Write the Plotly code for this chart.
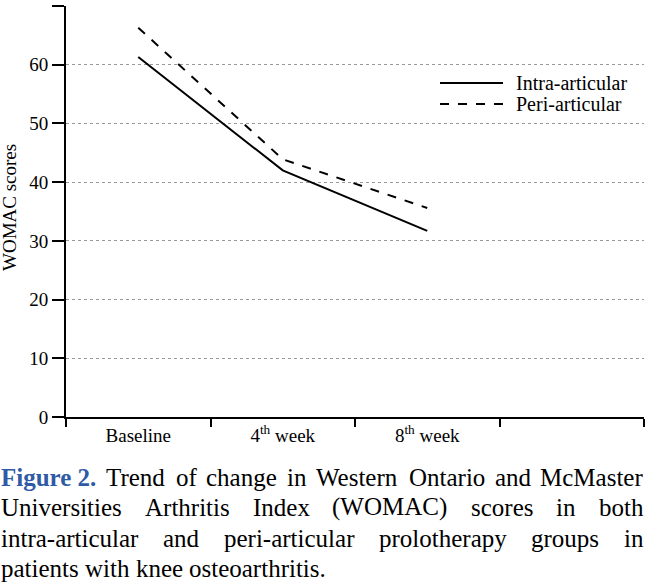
import plotly.graph_objects as go

categories = ["Baseline", "4<sup>th</sup> week", "8<sup>th</sup> week", " "]
intra_articular = [61.3, 42.0, 31.7]
peri_articular = [66.3, 43.9, 35.6]
y_ticks = [0, 10, 20, 30, 40, 50, 60, 70]
series_names = ["Intra-articular", "Peri-articular"]

caption_label = "Figure 2."
caption_lines = [
    "Trend of change in Western Ontario and McMaster",
    "Universities Arthritis Index (WOMAC) scores in both",
    "intra-articular and peri-articular prolotherapy groups in",
    "patients with knee osteoarthritis.",
]

SERIF = "Liberation Serif"
W, H = 645, 583
L, R, T, B = 66, 1, 6, 166
PW = W - L - R
PH = H - T - B


def px_x(px):
    return (px - L) / PW


def px_y(py):
    return (H - B - py) / PH


# Times / Liberation Serif advance widths (units of 1/1000 em)
_reg = dict(zip("abcdefghijklmnopqrstuvwxyz",
                [444, 500, 444, 500, 444, 333, 500, 500, 278, 278, 500, 278, 778,
                 500, 500, 500, 500, 333, 389, 278, 500, 500, 722, 500, 500, 444]))
_reg.update(dict(zip("ABCDEFGHIJKLMNOPQRSTUVWXYZ",
                     [722, 667, 667, 722, 611, 556, 722, 722, 333, 389, 722, 611, 889,
                      722, 722, 556, 722, 667, 556, 611, 722, 722, 944, 722, 722, 611])))
_reg.update({" ": 250, "-": 333, ".": 250, "(": 333, ")": 333, ",": 250})
_bold = {"F": 611, "i": 278, "g": 500, "u": 556, "r": 444, "e": 444, " ": 250,
         "2": 500, ".": 250}


def text_w(s, size, bold=False):
    tbl = _bold if bold else _reg
    return sum(tbl.get(c, 500) for c in s) * size / 1000.0


fig = go.Figure()
fig.add_trace(go.Scatter(x=categories[:3], y=intra_articular, mode="lines",
                         name=series_names[0], showlegend=False,
                         line=dict(color="black", width=2)))
fig.add_trace(go.Scatter(x=categories[:3], y=peri_articular, mode="lines",
                         name=series_names[1], showlegend=False,
                         line=dict(color="black", width=2, dash="dash")))
# empty trailing category
fig.add_trace(go.Scatter(x=[categories[3]], y=[None], mode="lines", showlegend=False,
                         hoverinfo="skip"))

fig.update_layout(
    width=W, height=H,
    margin=dict(l=L, r=R, t=T, b=B),
    paper_bgcolor="white", plot_bgcolor="white",
    font=dict(family=SERIF, size=18, color="black"),
)
fig.update_xaxes(
    type="category", categoryorder="array", categoryarray=categories,
    range=[-0.5, 3.5], tickson="boundaries", ticks="outside", ticklen=8,
    tickwidth=2, tickcolor="black", showline=True, linecolor="black", linewidth=2,
    showgrid=False, zeroline=False, tickfont=dict(size=19, family=SERIF),
)
fig.update_yaxes(
    range=[0, 70], tickvals=y_ticks, ticks="outside", ticklen=12, tickwidth=2,
    tickcolor="black", showline=True, linecolor="black", linewidth=2,
    showgrid=True, gridcolor="#9a9a9a", griddash="dot", gridwidth=1,
    zeroline=False, tickfont=dict(size=19, family=SERIF),
)

# y-axis title
fig.add_annotation(xref="paper", yref="paper", x=px_x(10), y=px_y(208),
                   xanchor="center", yanchor="middle", showarrow=False,
                   textangle=-90, text="WOMAC scores",
                   font=dict(size=19, family=SERIF))

# legend (custom, long line samples)
for i, (name, dash) in enumerate(zip(series_names, ["solid", "dash"])):
    yy = 83 + 21 * i
    fig.add_shape(type="line", xref="paper", yref="paper",
                  x0=px_x(440), x1=px_x(503), y0=px_y(yy), y1=px_y(yy),
                  line=dict(color="black", width=2, dash=dash))
    fig.add_annotation(xref="paper", yref="paper", x=px_x(514), y=px_y(yy),
                       xanchor="left", yanchor="middle", showarrow=False,
                       text=name, font=dict(size=20, family=SERIF))

# caption, justified
CAP = 25
blue = "#2f5aa6"
cap_font = dict(family=SERIF, size=CAP, color="black")
line_y = [477, 507, 538, 568]
left_px, right_px = 0, 642
for li, (line, yy) in enumerate(zip(caption_lines, line_y)):
    words = [(w, False) for w in line.split(" ")]
    if li == 0:
        words = [(caption_label, True)] + words
    widths = [text_w(w, CAP, b) for w, b in words]
    last = li == len(caption_lines) - 1
    space = text_w(" ", CAP)
    if last or len(words) < 2:
        gap = space
    else:
        gap = (right_px - left_px - sum(widths)) / (len(words) - 1)
        gap = max(gap, space * 0.6)
    x = left_px
    for (w, b), wd in zip(words, widths):
        if b:
            txt = "<b><span style='color:%s'>%s</span></b>" % (blue, w)
        else:
            txt = w
        fig.add_annotation(xref="paper", yref="paper", x=px_x(x), y=px_y(yy),
                           xanchor="left", yanchor="middle", showarrow=False,
                           text=txt, font=cap_font, borderpad=0)
        x += wd + gap

fig.write_html("out.html", config={"displayModeBar": False},
               post_script="document.body.style.margin='0';document.body.style.overflow='hidden';")
